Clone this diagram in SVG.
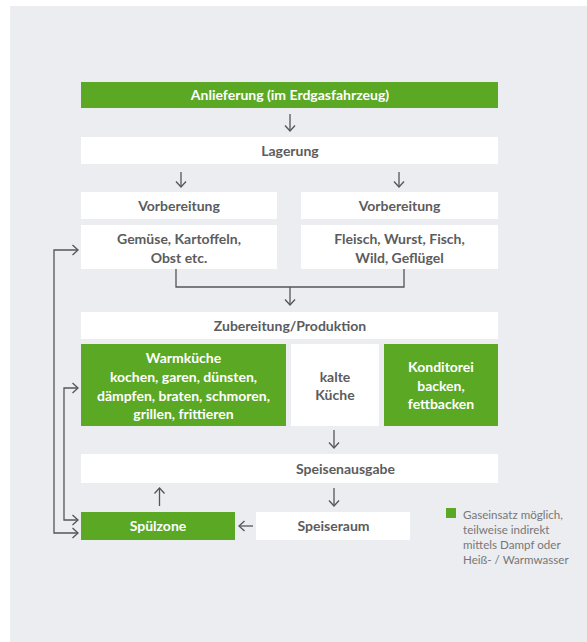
<svg xmlns="http://www.w3.org/2000/svg" width="587" height="642" viewBox="0 0 587 642">
<defs>
<style>
.bg{fill:#ebedf1}
.w{fill:#ffffff}
.g{fill:#5ba824}
text{font-family:Lato,"Noto Sans",sans-serif;font-weight:bold;font-size:14px;text-anchor:middle}
.tw{fill:#ffffff}
.tg{fill:#5c5c5c}
.leg{font-weight:normal;font-size:11.6px;text-anchor:start;fill:#777777}
.c{fill:none;stroke:#555555;stroke-width:1.3}
</style>
<marker id="ah" markerUnits="userSpaceOnUse" markerWidth="12" markerHeight="12" refX="5.5" refY="5" orient="auto-start-reverse" viewBox="-1 -1 12 12">
<path d="M0,0 L5.5,5 L0,10" fill="none" stroke="#555555" stroke-width="1.3"/>
</marker>
</defs>
<rect x="0" y="0" width="587" height="642" fill="#ffffff"/>
<rect class="bg" x="10" y="6" width="577" height="636"/>

<g id="anlieferung"><rect class="g" x="81" y="82" width="417" height="26"/><text class="tw" x="290" y="100">Anlieferung (im Erdgasfahrzeug)</text></g>
<g id="lagerung"><rect class="w" x="81" y="137" width="417" height="27"/><text class="tg" x="290" y="155.5">Lagerung</text></g>
<g id="vorb-links"><rect class="w" x="81" y="192" width="196" height="27"/><text class="tg" x="179" y="210.5">Vorbereitung</text></g>
<g id="vorb-rechts"><rect class="w" x="301" y="192" width="197" height="27"/><text class="tg" x="399.5" y="210.5">Vorbereitung</text></g>
<g id="gemuese"><rect class="w" x="81" y="225" width="196" height="44"/><text class="tg" x="179" y="244">Gemüse, Kartoffeln,</text><text class="tg" x="179" y="263">Obst etc.</text></g>
<g id="fleisch"><rect class="w" x="301" y="225" width="197" height="44"/><text class="tg" x="399.5" y="244">Fleisch, Wurst, Fisch,</text><text class="tg" x="399.5" y="263">Wild, Geflügel</text></g>
<g id="zubereitung"><rect class="w" x="81" y="312" width="417" height="27"/><text class="tg" x="290" y="330.5">Zubereitung/Produktion</text></g>
<g id="warmkueche"><rect class="g" x="81" y="344" width="205" height="82"/>
<text class="tw" x="183.5" y="363">Warmküche</text>
<text class="tw" x="183.5" y="382">kochen, garen, dünsten,</text>
<text class="tw" x="183.5" y="400.5">dämpfen, braten, schmoren,</text>
<text class="tw" x="183.5" y="419">grillen, frittieren</text></g>
<g id="kalte-kueche"><rect class="w" x="291" y="344" width="88" height="82"/><text class="tg" x="335" y="382">kalte</text><text class="tg" x="335" y="400">Küche</text></g>
<g id="konditorei"><rect class="g" x="384" y="344" width="114" height="82"/>
<text class="tw" x="441" y="372">Konditorei</text>
<text class="tw" x="441" y="391">backen,</text>
<text class="tw" x="441" y="409">fettbacken</text></g>
<g id="speisenausgabe"><rect class="w" x="81" y="454" width="417" height="29"/><text class="tg" x="345.5" y="473.5">Speisenausgabe</text></g>
<g id="spuelzone"><rect class="g" x="81" y="512" width="154" height="28"/><text class="tw" x="158" y="531">Spülzone</text></g>
<g id="speiseraum"><rect class="w" x="256" y="512" width="154" height="28"/><text class="tg" x="333.5" y="531">Speiseraum</text></g>

<g id="connectors">
<path class="c" d="M290,114 V131" marker-end="url(#ah)"/>
<path class="c" d="M181,172 V187" marker-end="url(#ah)"/>
<path class="c" d="M399,172 V187" marker-end="url(#ah)"/>
<path class="c" d="M176,269 V287 H404 V269"/>
<path class="c" d="M290,287 V305" marker-end="url(#ah)"/>
<path class="c" d="M334,430 V448" marker-end="url(#ah)"/>
<path class="c" d="M334,488 V506" marker-end="url(#ah)"/>
<path class="c" d="M159.5,506 V488" marker-end="url(#ah)"/>
<path class="c" d="M253,526 H239" marker-end="url(#ah)"/>
<path class="c" d="M78,250 H54 V533 H78" marker-start="url(#ah)" marker-end="url(#ah)"/>
<path class="c" d="M78,388 H64 V520 H78" marker-start="url(#ah)" marker-end="url(#ah)"/>
</g>

<g id="legende">
<rect class="g" x="446" y="508" width="10" height="10"/>
<text class="leg" x="463" y="519">Gaseinsatz möglich,</text>
<text class="leg" x="463" y="534">teilweise indirekt</text>
<text class="leg" x="463" y="549">mittels Dampf oder</text>
<text class="leg" x="463" y="564">Heiß- / Warmwasser</text>
</g>
</svg>
